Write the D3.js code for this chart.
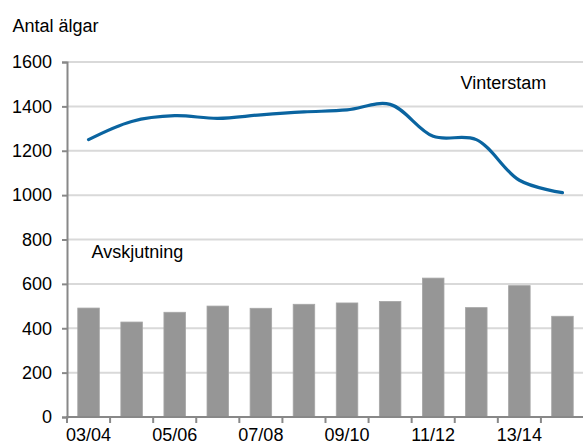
<!DOCTYPE html>
<html>
<head>
<meta charset="utf-8">
<script src="https://cdn.jsdelivr.net/npm/d3@7"></script>
<style>
  body { margin: 0; background: #fff; }
  svg text { font-family: "Liberation Sans", Arial, sans-serif; fill: #000; }
</style>
</head>
<body>
<svg width="583" height="445"></svg>
<script>
"use strict";
// data
var seasons = ["03/04","04/05","05/06","06/07","07/08","08/09","09/10","10/11","11/12","12/13","13/14","14/15"];
var vinterstam = [1250, 1332, 1358, 1346, 1362, 1375, 1384, 1409, 1265, 1250, 1067, 1011];
var avskjutning = [491, 428, 472, 500, 490, 508, 514, 521, 626, 493, 592, 454];
var yTicks = [0, 200, 400, 600, 800, 1000, 1200, 1400, 1600];
var xLabels = ["03/04","05/06","07/08","09/10","11/12","13/14"];

var svg = d3.select("svg");
//plot area
const plotLeft = 67, plotRight = 584, plotTop = 62, plotBottom = 417;
const fontSize = "18px";

var x = d3.scaleBand().domain(seasons).range([plotLeft, plotRight]).paddingInner(0.5).paddingOuter(0.25);
var xc = function(d){ return x(d) + x.bandwidth() / 2; };
var y = d3.scaleLinear().domain([0, 1600]).range([plotBottom, plotTop]);

//gridlines
svg.append("g").selectAll("line").data(yTicks.filter(function(d){return d > 0;}))
  .join("line")
  .attr("x1", plotLeft).attr("x2", plotRight)
  .attr("y1", function(d){return y(d);}).attr("y2", function(d){return y(d);})
  .attr("stroke", "#d9d9d9").attr("stroke-width", 2);

//bars
svg.append("g").selectAll("rect").data(avskjutning)
  .join("rect")
  .attr("x", function(d, i){return x(seasons[i]);})
  .attr("width", x.bandwidth())
  .attr("y", function(d){return y(d);})
  .attr("height", function(d){return plotBottom - y(d);})
  .attr("fill", "#969696")
  .attr("stroke", "#a6a6a6").attr("stroke-width", 0.8);

//line
var line = d3.line()
  .x(function(d, i){return xc(seasons[i]);})
  .y(function(d){return y(d);})
  .curve(d3.curveCatmullRom.alpha(0.5));
svg.append("path").datum(vinterstam)
  .attr("d", line)
  .attr("fill", "none")
  .attr("stroke", "#0a64a0")
  .attr("stroke-width", 3.2)
  .attr("stroke-linecap", "round");

//y axis
var yAxis = svg.append("g").attr("transform", "translate(" + plotLeft + ",0)")
  .call(d3.axisLeft(y).tickValues(yTicks).tickSize(5).tickPadding(10).tickFormat(d3.format("d")));
yAxis.select(".domain").attr("stroke", "#888").attr("stroke-width", 2);
yAxis.selectAll(".tick line").attr("stroke", "#888").attr("stroke-width", 2);
yAxis.selectAll("text").style("font-size", fontSize).attr("fill", "#000");

//x axis: ticks between categories, labels every second season
var xg = svg.append("g");
xg.append("line").attr("x1", plotLeft - 1).attr("x2", plotRight)
  .attr("y1", plotBottom).attr("y2", plotBottom)
  .attr("stroke", "#888").attr("stroke-width", 2);
var step = x.step();
xg.selectAll("line.tk").data(seasons)
  .join("line").attr("class", "tk")
  .attr("x1", function(d){return xc(d) - step / 2;})
  .attr("x2", function(d){return xc(d) - step / 2;})
  .attr("y1", plotBottom).attr("y2", plotBottom + 6)
  .attr("stroke", "#888").attr("stroke-width", 2);
xg.selectAll("text").data(xLabels)
  .join("text")
  .attr("x", function(d){return xc(d);})
  .attr("y", 440.5)
  .attr("text-anchor", "middle")
  .style("font-size", fontSize)
  .text(function(d){return d;});

//labels
svg.append("text").attr("x", 12.5).attr("y", 31.5).style("font-size", fontSize).text("Antal älgar");
svg.append("text").attr("x", 460.5).attr("y", 89).style("font-size", fontSize).text("Vinterstam");
svg.append("text").attr("x", 91.5).attr("y", 257.7).style("font-size", fontSize).text("Avskjutning");
</script>
</body>
</html>
